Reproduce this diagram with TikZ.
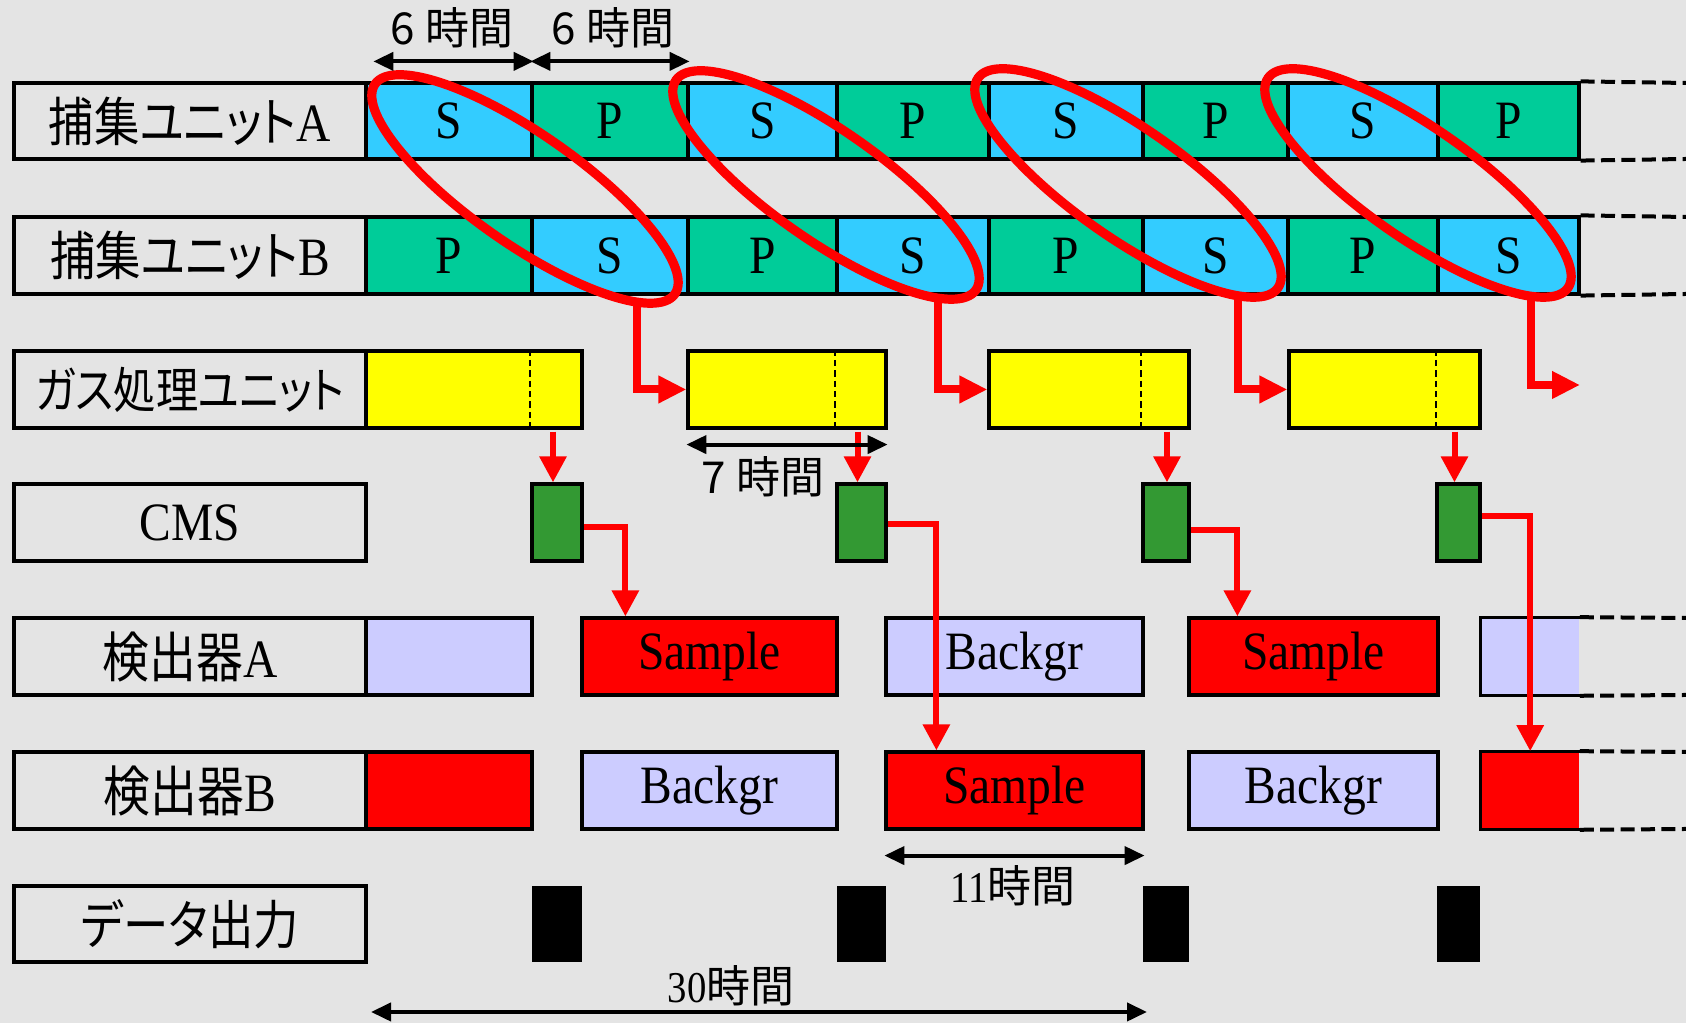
\documentclass[tikz,border=0pt]{standalone}
\usepackage{fontspec}
\setmainfont{Liberation Serif}[FakeStretch=0.88]
\newfontfamily\jp{Noto Sans CJK JP}[RawFeature=+palt,FakeStretch=0.86]
\newfontfamily\jq{Noto Sans CJK JP}[RawFeature=+palt]
\usetikzlibrary{arrows.meta,calc}
\definecolor{bg}{HTML}{E4E4E4}
\definecolor{scol}{HTML}{33CCFF}
\definecolor{pcol}{HTML}{00CC99}
\definecolor{ycol}{HTML}{FFFF00}
\definecolor{cmscol}{HTML}{339933}
\definecolor{lav}{HTML}{CCCCFF}
\definecolor{rd}{HTML}{FF0000}
% name, x1, y1, x2, y2, style, text
\newcommand\bx[7]{\node[#6, minimum width={(#4-#2)*0.25pt}, minimum height={(#5-#3)*0.25pt}] (#1) at ({(#2+#4)/2},{(#3+#5)/2}) {#7};}
\newcommand\dn[1]{\raisebox{-1.1pt}{#1}}
\newcommand\jps[1]{\jp\fontsize{#1}{15}\selectfont}
\begin{document}
\begin{tikzpicture}[x=0.25pt,y=-0.25pt,
 lbl/.style={draw=black,line width=0.8pt,inner sep=0pt,font=\fontsize{13.5}{15}\selectfont},
 cell/.style={draw=black,line width=0.8pt,inner sep=0pt,font=\fontsize{13.5}{15}\selectfont},
 open/.style={inner sep=0pt},
 ell/.style={draw=rd,line width=2.3pt},
 rarA/.style={draw=rd,line width=2pt,-{Triangle[length=7pt,width=6.5pt]}},
 rarB/.style={draw=rd,line width=1.5pt,-{Triangle[length=6.5pt,width=6.5pt]}},
 ext/.style={draw=black,line width=1pt,dash pattern=on 3.5pt off 1.6pt},
 ydash/.style={draw=black,line width=0.5pt,dash pattern=on 1.6pt off 1pt},
 dim/.style={draw=black,line width=1pt,{Triangle[length=5pt,width=4.5pt]}-{Triangle[length=5pt,width=4.5pt]}},
 tlab/.style={inner sep=0pt,font=\fontsize{11}{13}\selectfont}]
\fill[bg] (0,0) rectangle (1686,1023);
\useasboundingbox (0,0) rectangle (1686,1023);

% row labels
\bx{la}{14}{83}{366}{159}{lbl}{{\jps{13.2}捕集ユニット}A}
\bx{lb}{14}{217}{366}{294}{lbl}{{\jps{13.2}捕集ユニット}B}
\bx{lg}{14}{351}{366}{428}{lbl}{\jps{12.3}ガス処理ユニット}
\bx{lc}{14}{484}{366}{561}{lbl}{\dn{CMS}}
\bx{lda}{14}{618}{366}{695}{lbl}{{\jps{13.6}検出器}A}
\bx{ldb}{14}{752}{366}{829}{lbl}{{\jps{13.6}検出器}B}
\bx{lo}{14}{886}{366}{962}{lbl}{\jps{13.2}データ出力}

% collection unit A
\bx{a1}{366}{83}{532}{159}{cell,fill=scol}{\dn{S}}
\bx{a2}{532}{83}{688}{159}{cell,fill=pcol}{\dn{P}}
\bx{a3}{688}{83}{837}{159}{cell,fill=scol}{\dn{S}}
\bx{a4}{837}{83}{989}{159}{cell,fill=pcol}{\dn{P}}
\bx{a5}{989}{83}{1143}{159}{cell,fill=scol}{\dn{S}}
\bx{a6}{1143}{83}{1288}{159}{cell,fill=pcol}{\dn{P}}
\bx{a7}{1288}{83}{1438}{159}{cell,fill=scol}{\dn{S}}
\bx{a8}{1438}{83}{1579}{159}{cell,fill=pcol}{\dn{P}}
% collection unit B
\bx{b1}{366}{217}{532}{294}{cell,fill=pcol}{\dn{P}}
\bx{b2}{532}{217}{688}{294}{cell,fill=scol}{\dn{S}}
\bx{b3}{688}{217}{837}{294}{cell,fill=pcol}{\dn{P}}
\bx{b4}{837}{217}{989}{294}{cell,fill=scol}{\dn{S}}
\bx{b5}{989}{217}{1143}{294}{cell,fill=pcol}{\dn{P}}
\bx{b6}{1143}{217}{1288}{294}{cell,fill=scol}{\dn{S}}
\bx{b7}{1288}{217}{1438}{294}{cell,fill=pcol}{\dn{P}}
\bx{b8}{1438}{217}{1579}{294}{cell,fill=scol}{\dn{S}}
\draw[ext] (a8.north east) -- (1686,83);
\draw[ext] (a8.south east) -- (1686,159);
\draw[ext] (b8.north east) -- (1686,217);
\draw[ext] (b8.south east) -- (1686,294);

% gas processing unit
\bx{g1}{366}{351}{582}{428}{cell,fill=ycol}{}
\bx{g2}{688}{351}{886}{428}{cell,fill=ycol}{}
\bx{g3}{989}{351}{1189}{428}{cell,fill=ycol}{}
\bx{g4}{1289}{351}{1480}{428}{cell,fill=ycol}{}
\draw[ydash] (g1.north -| a2.west) -- (g1.south -| a2.west);
\draw[ydash] (g2.north -| a4.west) -- (g2.south -| a4.west);
\draw[ydash] (g3.north -| a6.west) -- (g3.south -| a6.west);
\draw[ydash] (g4.north -| a8.west) -- (g4.south -| a8.west);

% CMS
\bx{c1}{532}{484}{582}{561}{cell,fill=cmscol}{}
\bx{c2}{837}{484}{886}{561}{cell,fill=cmscol}{}
\bx{c3}{1143}{484}{1189}{561}{cell,fill=cmscol}{}
\bx{c4}{1437}{484}{1480}{561}{cell,fill=cmscol}{}

% detector A
\bx{da1}{366}{618}{532}{695}{cell,fill=lav}{}
\bx{da2}{582}{618}{837}{695}{cell,fill=rd}{\dn{Sample}}
\bx{da3}{886}{618}{1143}{695}{cell,fill=lav}{\dn{Backgr}}
\bx{da4}{1189}{618}{1438}{695}{cell,fill=rd}{\dn{Sample}}
\bx{da5}{1481}{618}{1579}{695}{open,fill=lav}{}
\draw[black,line width=0.8pt] (da5.north east) -- (da5.north west) -- (da5.south west) -- (da5.south east);
\draw[ext] (da5.north east) -- (1686,618);
\draw[ext] (da5.south east) -- (1686,695);
% detector B
\bx{db1}{366}{752}{532}{829}{cell,fill=rd}{}
\bx{db2}{582}{752}{837}{829}{cell,fill=lav}{\dn{Backgr}}
\bx{db3}{886}{752}{1143}{829}{cell,fill=rd}{\dn{Sample}}
\bx{db4}{1189}{752}{1438}{829}{cell,fill=lav}{\dn{Backgr}}
\bx{db5}{1481}{752}{1579}{829}{open,fill=rd}{}
\draw[black,line width=0.8pt] (db5.north east) -- (db5.north west) -- (db5.south west) -- (db5.south east);
\draw[ext] (db5.north east) -- (1686,752);
\draw[ext] (db5.south east) -- (1686,829);

% data output
\bx{k1}{532}{886}{582}{962}{open,fill=black}{}
\bx{k2}{837}{886}{886}{962}{open,fill=black}{}
\bx{k3}{1143}{886}{1189}{962}{open,fill=black}{}
\bx{k4}{1437}{886}{1480}{962}{open,fill=black}{}

% ellipses
\draw[ell, rotate around={-35:(525,189)}] (525,189) ellipse [x radius=183, y radius=55];
\draw[ell, rotate around={-35:(826,185)}] (826,185) ellipse [x radius=183, y radius=55];
\draw[ell, rotate around={-35:(1128,183)}] (1128,183) ellipse [x radius=183, y radius=55];
\draw[ell, rotate around={-35:(1418,183)}] (1418,183) ellipse [x radius=183, y radius=55];
\coordinate (e1) at (637,300);
\coordinate (e2) at (938,296);
\coordinate (e3) at (1238,294);
\coordinate (e4) at (1531,294);
\coordinate (f4) at (1580,385);

% ellipse -> gas unit
\draw[rarA] (e1) |- (g2.west);
\draw[rarA] (e2) |- (g3.west);
\draw[rarA] (e3) |- (g4.west);
\draw[rarA] (e4) |- (f4);

% gas -> CMS
\draw[rarB] ($(g1.south -| c1.north)+(-4,2)$) -- ($(c1.north)+(-4,0)$);
\draw[rarB] ($(g2.south -| c2.north)+(-4,2)$) -- ($(c2.north)+(-4,0)$);
\draw[rarB] ($(g3.south -| c3.north)+(1,2)$) -- ($(c3.north)+(1,0)$);
\draw[rarB] ($(g4.south -| c4.north)+(-4,2)$) -- ($(c4.north)+(-4,0)$);

% CMS -> detectors
\draw[rarB] ($(c1.east)+(0,5)$) -| ($(da2.north west)+(45,0)$);
\draw[rarB] ($(c2.east)+(0,2)$) -| ($(db3.north west)+(52,0)$);
\draw[rarB] ($(c3.east)+(0,8)$) -| ($(da4.north west)+(50,0)$);
\draw[rarB] ($(c4.east)+(0,-6)$) -| ($(db5.north west)+(50,0)$);

% dimension arrows
\draw[dim] ($(a1.north west)+(9,-20)$) -- ($(a1.north east)+(0,-20)$);
\draw[dim] ($(a2.north west)+(0,-20)$) -- ($(a2.north east)+(0,-20)$);
\draw[dim] ($(g2.south west)+(0,15)$) -- ($(g2.south east)+(0,15)$);
\draw[dim] ($(db3.south west)+(0,25)$) -- ($(db3.south east)+(0,25)$);
\coordinate (s0) at (371,1012);
\coordinate (s1) at (1147,1012);
\draw[dim] (s0) -- (s1);

\node[tlab] (h6a) at (452,28) {\jq 6 時間};
\node[tlab] (h6b) at (613,28) {\jq 6 時間};
\node[tlab] (h7) at (763,477) {\jq 7 時間};
\node[tlab] (h11) at (1013,886) {11{\jq 時間}};
\node[tlab] (h30) at (731,986) {30{\jq 時間}};
\end{tikzpicture}
\end{document}
